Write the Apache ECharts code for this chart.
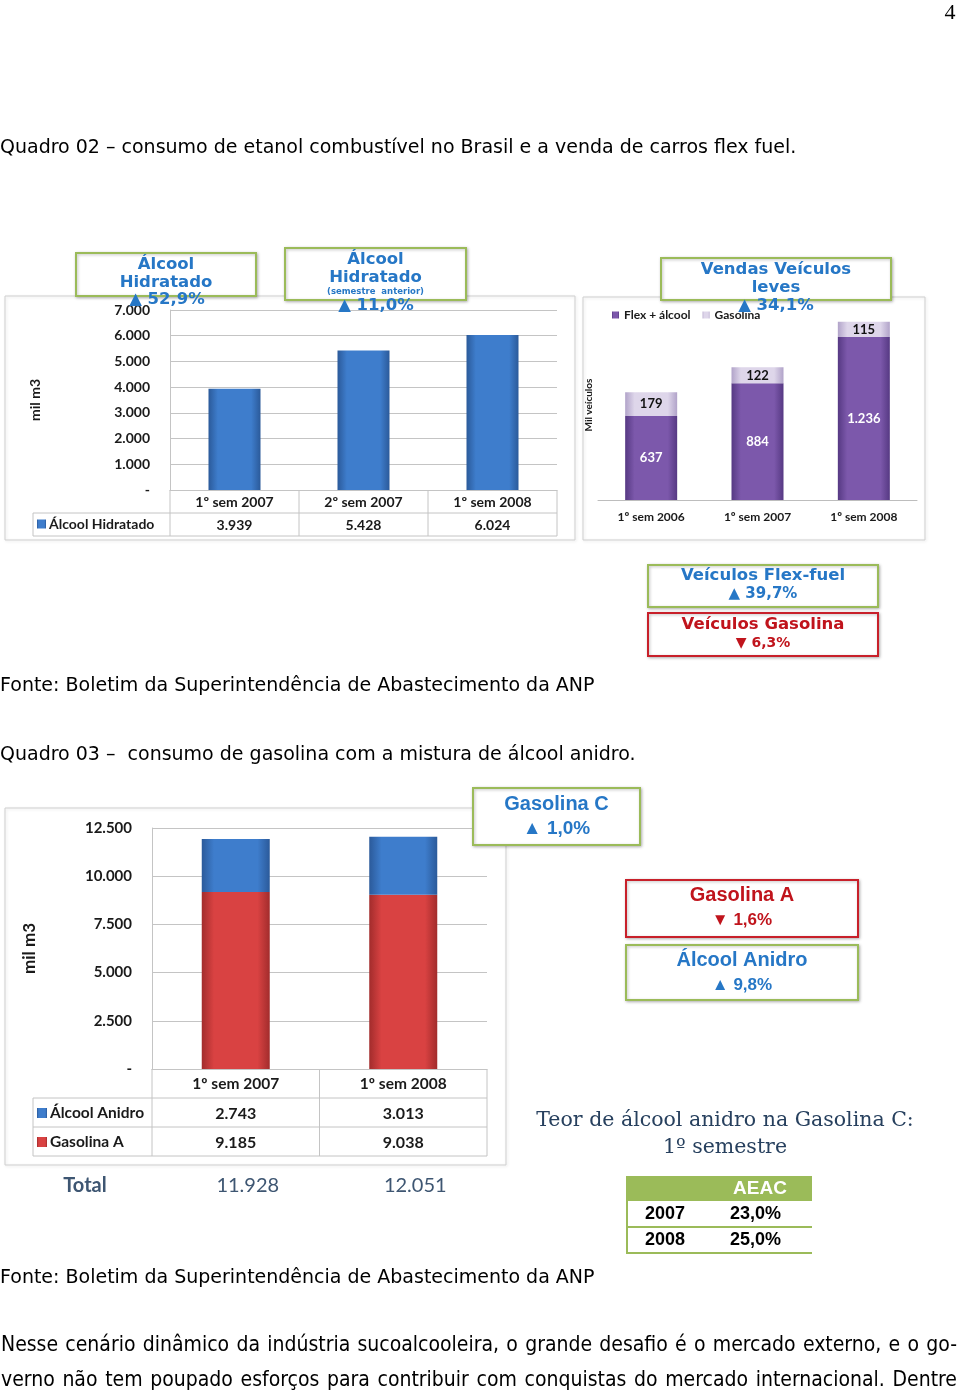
<!DOCTYPE html>
<html><head><meta charset="utf-8">
<script src="https://cdn.jsdelivr.net/npm/echarts@6/dist/echarts.min.js"></script>
<style>html,body{margin:0;padding:0;background:#fff}#c{width:960px;height:1394px}</style>
</head><body><div id="c"></div>
<script>
// ---------- DATA ----------
const hidCategories = ['1º sem 2007', '2º sem 2007', '1º sem 2008'];
const hidValues = [3939, 5428, 6024];
const hidTicks = { min: 0, max: 7000, interval: 1000 };

const vehCategories = ['1º sem 2006', '1º sem 2007', '1º sem 2008'];
const vehFlex = [637, 884, 1236];
const vehGasolina = [179, 122, 115];

const gasCategories = ['1º sem 2007', '1º sem 2008'];
const gasAnidro = [2743, 3013];
const gasA = [9185, 9038];
const gasTicks = { min: 0, max: 12500, interval: 2500 };

const aeacYears = ['2007', '2008'];
const aeacValues = ['23,0%', '25,0%'];

// ---------- HELPERS ----------
const fmt = v => v === 0 ? '-' : String(v).replace(/\B(?=(\d{3})+(?!\d))/g, '.');
const BODY = '"DejaVu Sans", Verdana, sans-serif';
const CAL = 'Lato, "Open Sans", sans-serif';
const ARIAL = '"Liberation Sans", Arial, sans-serif';
const VERD = '"DejaVu Sans", Verdana, sans-serif';
const SERIF = '"DejaVu Serif", "Liberation Serif", serif';
const BLUE_T = '#2677c6', RED_T = '#c0141c', GREEN_B = '#9bbb59', RED_B = '#c8202a', GRID = '#c4c4c4';

function hgrad(edge, mid) {
  return new echarts.graphic.LinearGradient(0, 0, 1, 0, [
    { offset: 0, color: edge }, { offset: 0.18, color: mid },
    { offset: 0.82, color: mid }, { offset: 1, color: edge }]);
}
function txt(x, y, text, o) {
  o = o || {};
  return { type: 'text', x: x, y: y, z: o.z || 50, style: {
    text: text, fill: o.fill || '#000', fontSize: o.size || 19, fontFamily: o.family || BODY,
    fontWeight: o.weight || 'normal', align: o.align || 'left', verticalAlign: 'middle' } };
}
function frame(x, y, w, h) {
  return { type: 'rect', z: -10, shape: { x: x, y: y, width: w, height: h },
    style: { fill: 'none', stroke: '#cfcfcf', lineWidth: 1, shadowBlur: 3, shadowColor: 'rgba(0,0,0,0.12)', shadowOffsetX: 1, shadowOffsetY: 1 } };
}
function ln(x1, y1, x2, y2, color, lw) {
  return { type: 'line', z: 5, shape: { x1: x1, y1: y1, x2: x2, y2: y2 },
    style: { stroke: color || GRID, lineWidth: lw || 1 } };
}
function justify(line, y, x0, x1, size, family) {
  const ctx = document.createElement('canvas').getContext('2d');
  ctx.font = size + 'px ' + family;
  const words = line.split(' ');
  const ws = words.map(w => ctx.measureText(w).width);
  const gap = (x1 - x0 - ws.reduce((a, b) => a + b, 0)) / (words.length - 1);
  let x = x0; const out = [];
  words.forEach((w, i) => { out.push(txt(x, y, w, { size: size, family: family })); x += ws[i] + gap; });
  return out;
}

// ---------- CHART ----------
const chart = echarts.init(document.getElementById('c'), null, { renderer: 'canvas' });
const axisLbl = (size, margin) => ({ fontFamily: CAL, fontWeight: 'bold', fontSize: size, color: '#1a1a1a', margin: margin });

const option = {
  backgroundColor: '#fff',
  animation: false,
  grid: [
    { left: 170, right: 960 - 557, top: 310, height: 180, outerBoundsMode: 'none', containLabel: false },
    { left: 598, right: 960 - 917, top: 310, height: 190, outerBoundsMode: 'none', containLabel: false },
    { left: 152, right: 960 - 487, top: 828, height: 241, outerBoundsMode: 'none', containLabel: false }
  ],
  xAxis: [
    { gridIndex: 0, type: 'category', data: hidCategories, axisTick: { show: false },
      axisLine: { lineStyle: { color: GRID } }, axisLabel: axisLbl(14, 5) },
    { gridIndex: 1, type: 'category', data: vehCategories, axisTick: { show: false },
      axisLine: { lineStyle: { color: '#bdbdbd' } }, axisLabel: axisLbl(12, 11) },
    { gridIndex: 2, type: 'category', data: gasCategories, axisTick: { show: false },
      axisLine: { lineStyle: { color: GRID } }, axisLabel: axisLbl(15.5, 7) }
  ],
  yAxis: [
    { gridIndex: 0, type: 'value', min: hidTicks.min, max: hidTicks.max, interval: hidTicks.interval,
      name: 'mil m3', nameLocation: 'middle', nameRotate: 90, nameGap: 128,
      nameTextStyle: { fontFamily: CAL, fontWeight: 'bold', fontSize: 14, color: '#1a1a1a' },
      axisLine: { show: true, lineStyle: { color: GRID } }, axisTick: { show: false },
      splitLine: { lineStyle: { color: GRID } }, axisLabel: Object.assign(axisLbl(14, 20), { formatter: fmt }) },
    { gridIndex: 1, type: 'value', min: 0, max: 1440,
      name: 'Mil veículos', nameLocation: 'middle', nameRotate: 90, nameGap: 4,
      nameTextStyle: { fontFamily: CAL, fontWeight: 'bold', fontSize: 10, color: '#1a1a1a' },
      axisLine: { show: false }, axisTick: { show: false }, axisLabel: { show: false }, splitLine: { show: false } },
    { gridIndex: 2, type: 'value', min: gasTicks.min, max: gasTicks.max, interval: gasTicks.interval,
      name: 'mil m3', nameLocation: 'middle', nameRotate: 90, nameGap: 114,
      nameTextStyle: { fontFamily: CAL, fontWeight: 'bold', fontSize: 17, color: '#1a1a1a' },
      axisLine: { show: true, lineStyle: { color: GRID } }, axisTick: { show: false },
      splitLine: { lineStyle: { color: GRID } }, axisLabel: Object.assign(axisLbl(15, 20), { formatter: fmt }) }
  ],
  legend: [
    { data: ['Álcool Hidratado'], left: 37, top: 517, itemWidth: 9, itemHeight: 9, icon: 'rect', itemGap: 4,
      textStyle: { fontFamily: CAL, fontWeight: 'bold', fontSize: 14, color: '#1a1a1a', padding: [0, 0, 0, -2] }, padding: 0 },
    { data: ['Flex + álcool', 'Gasolina'], left: 612, top: 309, itemWidth: 7, itemHeight: 7, icon: 'rect', itemGap: 12,
      textStyle: { fontFamily: CAL, fontWeight: 'bold', fontSize: 12, color: '#1a1a1a' }, padding: 0 },
    { data: ['Álcool Anidro', 'Gasolina A'], orient: 'vertical', left: 37, top: 1105, itemWidth: 10, itemHeight: 10,
      icon: 'rect', itemGap: 13, textStyle: { fontFamily: CAL, fontWeight: 'bold', fontSize: 15.5, color: '#1a1a1a', padding: [0, 0, 0, -2] }, padding: 0 }
  ],
  series: [
    { type: 'bar', name: 'Álcool Hidratado', xAxisIndex: 0, yAxisIndex: 0, data: hidValues, barWidth: 52,
      itemStyle: { color: hgrad('#2b5a9a', '#3e7dcc') } },
    { type: 'bar', name: 'Flex + álcool', xAxisIndex: 1, yAxisIndex: 1, stack: 'veh', data: vehFlex, barWidth: 52,
      itemStyle: { color: hgrad('#563983', '#7c58ab') },
      label: { show: true, position: 'inside', color: '#fff', fontFamily: CAL, fontWeight: 'bold', fontSize: 13, formatter: p => fmt(p.value) } },
    { type: 'bar', name: 'Gasolina', xAxisIndex: 1, yAxisIndex: 1, stack: 'veh', data: vehGasolina, barWidth: 52,
      itemStyle: { color: hgrad('#b1a3c9', '#ded6ea') },
      label: { show: true, position: 'inside', color: '#111', fontFamily: CAL, fontWeight: 'bold', fontSize: 13, formatter: p => fmt(p.value) } },
    { type: 'bar', name: 'Gasolina A', xAxisIndex: 2, yAxisIndex: 2, stack: 'gas', data: gasA, barWidth: 68,
      itemStyle: { color: hgrad('#a22c2c', '#d94242') } },
    { type: 'bar', name: 'Álcool Anidro', xAxisIndex: 2, yAxisIndex: 2, stack: 'gas', data: gasAnidro, barWidth: 68,
      itemStyle: { color: hgrad('#2b5a9a', '#3e7dcc') } }
  ]
};
chart.setOption(option);

// ---------- TABLES & ANNOTATIONS ----------
const g = [];
g.push(txt(950, 13, '4', { family: '"Liberation Serif", serif', size: 22, align: 'center' }));
g.push(txt(0, 148, 'Quadro 02 – consumo de etanol combustível no Brasil e a venda de carros flex fuel.'));
g.push(txt(0, 686, 'Fonte: Boletim da Superintendência de Abastecimento da ANP'));
g.push(txt(0, 755, 'Quadro 03 –  consumo de gasolina com a mistura de álcool anidro.'));
g.push(txt(0, 1278, 'Fonte: Boletim da Superintendência de Abastecimento da ANP'));
const PF = '"DejaVu Sans Condensed", "DejaVu Sans", sans-serif';
justify('Nesse cenário dinâmico da indústria sucoalcooleira, o grande desafio é o mercado externo, e o go-', 1346, 1, 957, 21, PF).forEach(e => g.push(e));
justify('verno não tem poupado esforços para contribuir com conquistas do mercado internacional. Dentre', 1381, 1, 957, 21, PF).forEach(e => g.push(e));

g.push(frame(5, 296, 570, 244));
g.push(frame(583, 297, 342, 243));
g.push(frame(5, 808, 501, 357));

function tableFor(xi, cats, top, rowH, nRows, leftX) {
  const x0 = chart.convertToPixel({ xAxisIndex: xi }, 0);
  const x1 = chart.convertToPixel({ xAxisIndex: xi }, 1);
  const band = x1 - x0;
  const L = x0 - band / 2, R = L + band * cats.length;
  const bottom = top + rowH * nRows;
  for (let r = 1; r <= nRows; r++) g.push(ln(leftX, top + rowH * r, R, top + rowH * r));
  g.push(ln(leftX, top + rowH, leftX, bottom));
  for (let i = 0; i <= cats.length; i++) g.push(ln(L + band * i, top, L + band * i, bottom));
  return i => x0 + band * i;
}
const c1 = tableFor(0, hidCategories, 490, 23, 2, 33);
hidValues.forEach((v, i) => g.push(txt(c1(i), 525, fmt(v), { family: CAL, weight: 'bold', size: 14, align: 'center', fill: '#1a1a1a' })));

const c3 = tableFor(2, gasCategories, 1069, 29, 3, 33);
gasAnidro.forEach((v, i) => g.push(txt(c3(i), 1114, fmt(v), { family: CAL, weight: 'bold', size: 16, align: 'center', fill: '#1a1a1a' })));
gasA.forEach((v, i) => g.push(txt(c3(i), 1143, fmt(v), { family: CAL, weight: 'bold', size: 16, align: 'center', fill: '#1a1a1a' })));
const TOT = '#3e5672';
g.push(txt(85, 1186, 'Total', { family: CAL, weight: 'bold', size: 20, align: 'center', fill: TOT }));
gasCategories.forEach((c, i) => g.push(txt(c3(i) + 12, 1186, fmt(gasA[i] + gasAnidro[i]), { family: CAL, size: 20, align: 'center', fill: TOT })));

function box(x, y, w, h, border, lines) {
  g.push({ type: 'rect', z: 40, shape: { x: x, y: y, width: w, height: h },
    style: { fill: '#fff', stroke: border, lineWidth: 2, shadowBlur: 3, shadowColor: 'rgba(0,0,0,0.25)', shadowOffsetX: 1, shadowOffsetY: 1 } });
  lines.forEach(l => g.push(txt(x + w / 2, l[1], l[0], { family: l[4] || VERD, weight: 'bold', size: l[2], align: 'center', fill: l[3], z: 60 })));
}
const tri = (x, y, s, c) => g.push(txt(x, y, s, { family: VERD, weight: 'bold', size: 16.5, align: 'center', fill: c || BLUE_T, z: 60 }));
box(76, 253, 180, 43, GREEN_B, [['Álcool', 265, 16.5, BLUE_T], ['Hidratado', 283, 16.5, BLUE_T]]);
tri(167, 300, '▲ 52,9%');
box(285, 248, 181, 52, GREEN_B, [['Álcool', 260, 16.5, BLUE_T], ['Hidratado', 278, 16.5, BLUE_T], ['(semestre  anterior)', 292, 8.5, BLUE_T]]);
tri(376, 306, '▲ 11,0%');
box(661, 258, 230, 42, GREEN_B, [['Vendas Veículos', 270, 16.5, BLUE_T], ['leves', 288, 16.5, BLUE_T]]);
tri(776, 306, '▲ 34,1%');
box(648, 565, 230, 42, GREEN_B, [['Veículos Flex-fuel', 576, 16.5, BLUE_T], ['▲ 39,7%', 594, 15, BLUE_T]]);
box(648, 613, 230, 43, RED_B, [['Veículos Gasolina', 625, 16.5, RED_T], ['▼ 6,3%', 643, 14, RED_T]]);

box(473, 788, 167, 57, GREEN_B, [['Gasolina C', 804, 20, BLUE_T, ARIAL], ['▲ 1,0%', 829, 19, BLUE_T, ARIAL]]);
box(626, 880, 232, 57, RED_B, [['Gasolina A', 895, 20, RED_T, ARIAL], ['▼ 1,6%', 920, 17, RED_T, ARIAL]]);
box(626, 945, 232, 55, GREEN_B, [['Álcool Anidro', 960, 20, BLUE_T, ARIAL], ['▲ 9,8%', 985, 17, BLUE_T, ARIAL]]);

g.push(txt(725, 1121, 'Teor de álcool anidro na Gasolina C:', { family: SERIF, size: 20.5, align: 'center', fill: '#27405e' }));
g.push(txt(725, 1148, '1º semestre', { family: SERIF, size: 20.5, align: 'center', fill: '#27405e' }));
g.push({ type: 'rect', z: 40, shape: { x: 626, y: 1176, width: 186, height: 25 }, style: { fill: GREEN_B } });
g.push(txt(760, 1189, 'AEAC', { family: ARIAL, weight: 'bold', size: 19, align: 'center', fill: '#fff', z: 60 }));
aeacYears.forEach((yr, i) => {
  const yy = 1214 + i * 26;
  g.push(txt(645, yy, yr, { family: ARIAL, weight: 'bold', size: 18, fill: '#000' }));
  g.push(txt(730, yy, aeacValues[i], { family: ARIAL, weight: 'bold', size: 18, fill: '#000' }));
  g.push(ln(626, yy + 13, 812, yy + 13, GREEN_B, 2));
});
g.push(ln(627, 1200, 627, 1253, GREEN_B, 2));

chart.setOption({ graphic: g });
</script></body></html>
